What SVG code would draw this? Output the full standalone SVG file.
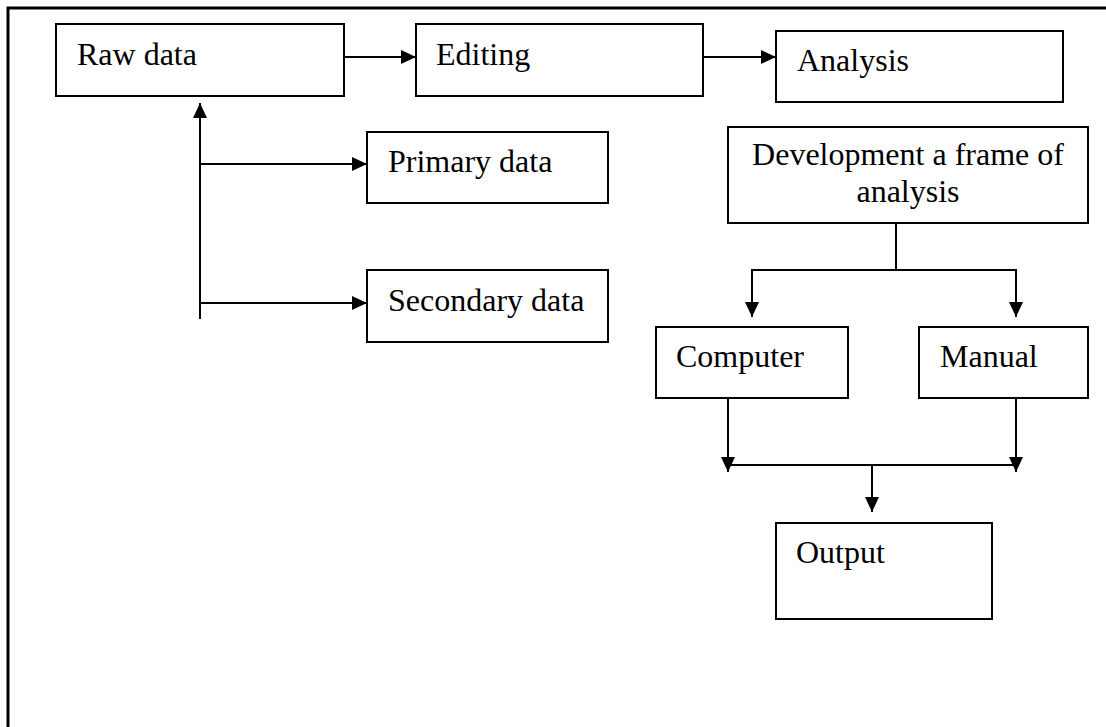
<svg xmlns="http://www.w3.org/2000/svg" width="1106" height="727" viewBox="0 0 1106 727">
<style>
.box{fill:#fff;stroke:#000;stroke-width:2}
.lbl{font-family:"Liberation Serif","Times New Roman",serif;font-size:32px;fill:#000}
.con{fill:none;stroke:#000;stroke-width:2}
</style>
<defs>
<marker id="ah" viewBox="0 0 15 14" refX="15" refY="7" markerWidth="15" markerHeight="14" markerUnits="userSpaceOnUse" orient="auto">
<path d="M0,0 L15,7 L0,14 Z" fill="#000"/>
</marker>
</defs>
<rect width="1106" height="727" fill="#fff"/>
<rect x="8" y="8" width="1110" height="740" fill="none" stroke="#000" stroke-width="3"/>
<g id="connectors">
<line class="con" x1="344" y1="57" x2="416" y2="57" marker-end="url(#ah)"/>
<line class="con" x1="703" y1="57" x2="776" y2="57" marker-end="url(#ah)"/>
<line class="con" x1="200" y1="319" x2="200" y2="103" marker-end="url(#ah)"/>
<line class="con" x1="200" y1="164" x2="367" y2="164" marker-end="url(#ah)"/>
<line class="con" x1="200" y1="303" x2="367" y2="303" marker-end="url(#ah)"/>
<line class="con" x1="896" y1="223" x2="896" y2="271"/>
<polyline class="con" points="896,270 752,270 752,317" marker-end="url(#ah)"/>
<polyline class="con" points="896,270 1016,270 1016,317" marker-end="url(#ah)"/>
<line class="con" x1="728" y1="398" x2="728" y2="472" marker-end="url(#ah)"/>
<line class="con" x1="1016" y1="398" x2="1016" y2="472" marker-end="url(#ah)"/>
<line class="con" x1="728" y1="465" x2="1016" y2="465"/>
<line class="con" x1="872" y1="465" x2="872" y2="512" marker-end="url(#ah)"/>
</g>
<g id="raw"><rect class="box" x="56" y="24" width="288" height="72"/><text class="lbl" x="77" y="65">Raw data</text></g>
<g id="editing"><rect class="box" x="416" y="24" width="287" height="72"/><text class="lbl" x="436" y="65">Editing</text></g>
<g id="analysis"><rect class="box" x="776" y="31" width="287" height="71"/><text class="lbl" x="797" y="71">Analysis</text></g>
<g id="primary"><rect class="box" x="367" y="132" width="241" height="71"/><text class="lbl" x="388" y="172">Primary data</text></g>
<g id="secondary"><rect class="box" x="367" y="270" width="241" height="72"/><text class="lbl" x="388" y="311">Secondary data</text></g>
<g id="frame"><rect class="box" x="728" y="127" width="360" height="96"/><text class="lbl" x="908" y="165" text-anchor="middle">Development a frame of</text><text class="lbl" x="908" y="202" text-anchor="middle">analysis</text></g>
<g id="computer"><rect class="box" x="656" y="327" width="192" height="71"/><text class="lbl" x="676" y="367">Computer</text></g>
<g id="manual"><rect class="box" x="919" y="327" width="169" height="71"/><text class="lbl" x="940" y="367">Manual</text></g>
<g id="output"><rect class="box" x="776" y="523" width="216" height="96"/><text class="lbl" x="796" y="563">Output</text></g>
</svg>
